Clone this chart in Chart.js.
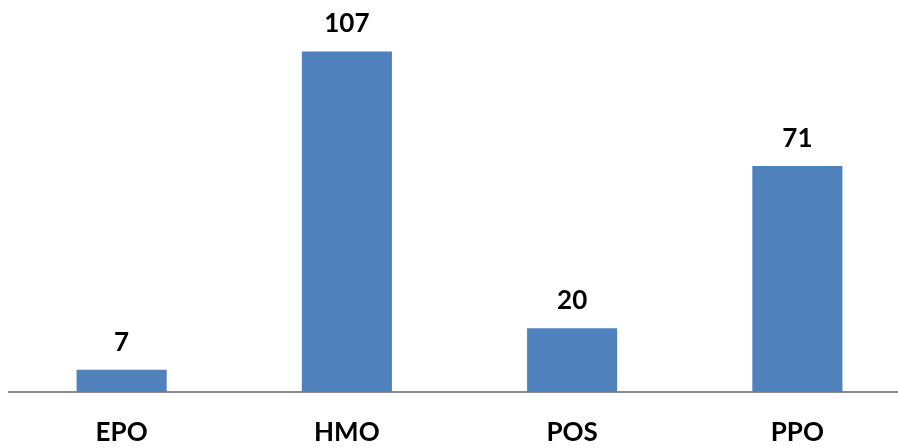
<!DOCTYPE html>
<html>
<head>
<meta charset="utf-8">
<script src="https://cdn.jsdelivr.net/npm/chart.js@4"></script>
<style>
  html, body { margin: 0; padding: 0; background: #ffffff; overflow: hidden; }
  #wrap { width: 898px; height: 448px; overflow: hidden; }
  canvas { display: block; }
</style>
</head>
<body>
<div id="wrap"><canvas id="chart" width="910" height="448"></canvas></div>
<script>
// Plan types and member counts
const categories = ["EPO", "HMO", "POS", "PPO"];
const counts = [7, 107, 20, 71];
const yMax = 120;

const FONT = "Lato, 'Open Sans', 'Liberation Sans', sans-serif";

// Writes each bar's value just above its top edge
const valueLabels = {
  id: "valueLabels",
  afterDatasetsDraw(chart) {
    const ctx = chart.ctx;
    const meta = chart.getDatasetMeta(0);
    ctx.save();
    ctx.font = "bold 26px " + FONT;
    ctx.fillStyle = "#000000";
    ctx.textAlign = "center";
    ctx.textBaseline = "alphabetic";
    meta.data.forEach((bar, i) => {
      ctx.fillText(String(counts[i]), bar.x, bar.y - 19);
    });
    ctx.restore();
  }
};

new Chart(document.getElementById("chart"), {
  type: "bar",
  data: {
    labels: categories,
    datasets: [{
      data: counts,
      backgroundColor: "#4F81BD",
      borderWidth: 0,
      barPercentage: 0.4,
      categoryPercentage: 1.0
    }]
  },
  options: {
    responsive: false,
    animation: false,
    devicePixelRatio: 1,
    layout: { padding: { left: 9, right: 0, top: 10, bottom: 0 } },
    plugins: {
      legend: { display: false },
      tooltip: { enabled: false }
    },
    scales: {
      x: {
        grid: { display: false, drawTicks: false },
        border: { display: true, color: "#8c8c8c", width: 2 },
        ticks: {
          color: "#000000",
          padding: 25,
          font: { family: FONT, size: 26, weight: "bold", lineHeight: 1.2 }
        },
        afterFit(scale) { scale.height = 56; }
      },
      y: {
        display: false,
        min: 0,
        max: yMax
      }
    }
  },
  plugins: [valueLabels]
});
</script>
</body>
</html>
